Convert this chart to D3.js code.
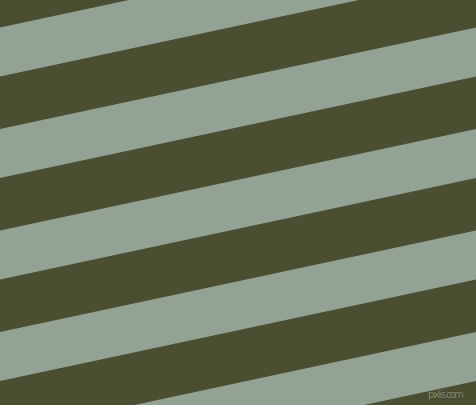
<!DOCTYPE html>
<html>
<head>
    <meta charset="UTF-8">
    <title>Stripes</title>
    <script src="https://d3js.org/d3.v7.min.js"></script>
    <style>
        body { margin: 0; background: #4b4e30; }
        svg { display: block; }
    </style>
</head>
<body>
<div id="my_dataviz"></div>
<script>
// stripe data
var lightStripes = [-1, 0, 1, 2, 3, 4, 5];
var stripeTones = ["#4b4e30", "#92a396"];
var watermark = ["pixlis.com"];

var width = 476,
    height = 405,
    angle = 12.04;

var svg = d3.select("#my_dataviz")
  .append("svg")
    .attr("width", width)
    .attr("height", height);

// dark ground
svg.append("rect")
    .attr("width", width)
    .attr("height", height)
    .attr("fill", stripeTones[0]);

// offset of each light stripe, measured across the stripes
var v = d3.scaleLinear()
    .domain([0, 1])
    .range([26.9, 126.2]);

var bandH = 47.9;

var g = svg.append("g")
    .attr("transform", "rotate(" + (-angle) + ")");

g.selectAll("rect.stripe")
  .data(lightStripes)
  .join("rect")
    .attr("class", "stripe")
    .attr("x", -300)
    .attr("width", 1100)
    .attr("y", function(d) { return v(d); })
    .attr("height", bandH)
    .attr("fill", stripeTones[1]);

// little watermark, bottom right
svg.selectAll("text.mark")
  .data(watermark)
  .join("text")
    .attr("class", "mark")
    .attr("x", 464)
    .attr("y", 398)
    .attr("text-anchor", "end")
    .attr("font-family", "'DejaVu Sans Condensed', 'DejaVu Sans', sans-serif")
    .attr("font-size", 11)
    .attr("textLength", 36)
    .attr("fill", "#8a8d77")
    .attr("stroke", "#33361f")
    .attr("stroke-width", 0.5)
    .attr("paint-order", "stroke")
    .text(function(d) { return d; });
</script>
</body>
</html>
